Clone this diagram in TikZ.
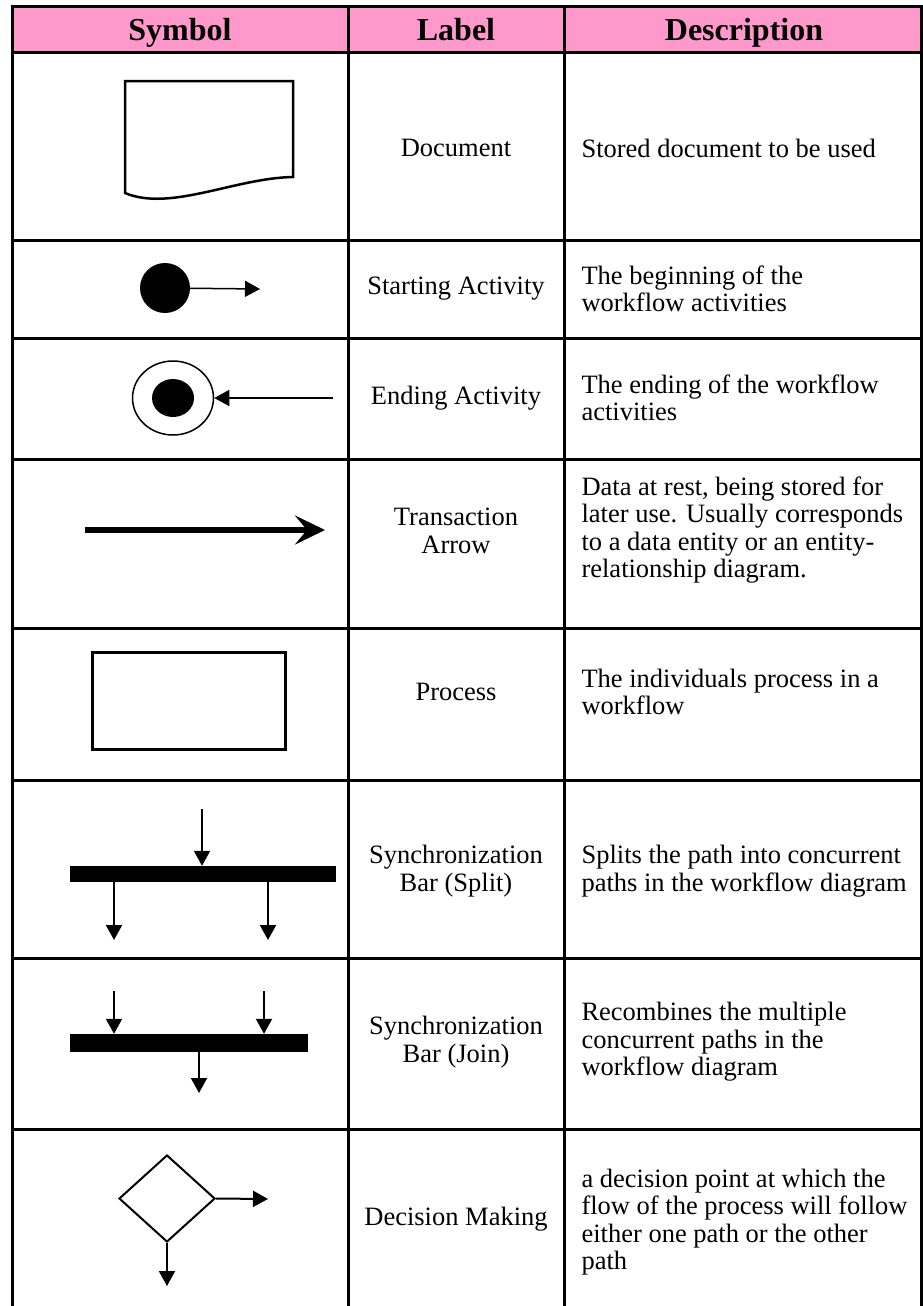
\documentclass[tikz,border=0pt]{standalone}
\usepackage{fontspec}
\setmainfont{Liberation Serif}
\usepackage{xcolor}
\definecolor{hdrpink}{RGB}{255, 153, 204}
\usetikzlibrary{arrows.meta, positioning, shapes.geometric}

\begin{document}
\begin{tikzpicture}[x=1pt, y=-1pt,
  grid/.style={line width=3pt, line cap=rect},
  hdr/.style={font=\fontsize{32}{36}\selectfont\bfseries, anchor=base},
  lbl/.style={font=\fontsize{26.5}{27.5}\selectfont, align=center},
  desc/.style={font=\fontsize{26.5}{27.5}\selectfont, align=left, anchor=west},
  tri/.style={-{Triangle[length=15pt, width=16pt]}}]
  \useasboundingbox (0,0) rectangle (922,1306);
  \fill[hdrpink] (12,7) rectangle (921,53);
  % table rules
  \foreach \y in {7,53,240,338,459,628,780,958,1129}
    \draw[grid] (12,\y) -- (921,\y);
  \foreach \x in {12,348,564,921}
    \draw[grid] (\x,7) -- (\x,1310);
  \node[hdr] (hsym) at (180,41) {Symbol};
  \node[hdr] (hlbl) at (456,41) {Label};
  \node[hdr] (hdesc) at (744,41) {Description};

  % document
  \draw[line width=2.5pt] (125,81) -- (293,81) -- (293,177)
    .. controls (235,178) and (170,212) .. (125,193) -- cycle;
  \node[lbl] (ldoc) at (456,148) {Document};
  \node[desc] (ddoc) at (578,148) {Stored document to be used};

  % starting activity
  \node[circle, fill, minimum size=50pt, inner sep=0] (startdot) at (165,288) {};
  \coordinate (startend) at (260,289);
  \draw[tri, line width=1.5pt] (startdot) -- (startend);
  \node[lbl] (lstart) at (456,289) {Starting Activity};
  \node[desc] (dstart) at (578,289) {The beginning of the\\workflow activities};

  % ending activity
  \node[ellipse, draw, line width=1.5pt, minimum width=81pt, minimum height=74pt,
        inner sep=0] (endring) at (173,398) {};
  \node[ellipse, fill, minimum width=42pt, minimum height=38pt, inner sep=0]
    (enddot) at (173,398) {};
  \coordinate (endstart) at (333,398);
  \draw[tri, line width=1.5pt] (endstart) -- (endring);
  \node[lbl] (lend) at (456,398) {Ending Activity};
  \node[desc] (dend) at (578,398) {The ending of the workflow\\activities};

  % transaction arrow
  \coordinate (trfrom) at (85,530);
  \coordinate (trto) at (325,530);
  \draw[line width=6pt, -{Stealth[length=30pt, width=29pt, inset=12pt]}]
    (trfrom) -- (trto);
  \node[lbl] (ltrans) at (456,531) {Transaction\\Arrow};
  \node[desc] (dtrans) at (578,530) {Data at rest, being stored for\\later use. Usually corresponds\\to a data entity or an entity-\\relationship diagram.};

  % process
  \node[draw, line width=3pt, minimum width=193pt, minimum height=97pt,
        inner sep=0] (proc) at (188.5,700.5) {};
  \node[lbl] (lproc) at (456,692) {Process};
  \node[desc] (dproc) at (578,692) {The individuals process in a\\workflow};

  % synchronization bar (split)
  \node[fill, minimum width=266pt, minimum height=16pt, inner sep=0]
    (splitbar) at (203,874) {};
  \coordinate (splitin) at (202,809);
  \coordinate (splitl) at (114,940);
  \coordinate (splitr) at (268,940);
  \draw[tri, line width=2pt] (splitin) -- (splitin |- splitbar.north);
  \draw[tri, line width=2pt] (splitl |- splitbar.south) -- (splitl);
  \draw[tri, line width=2pt] (splitr |- splitbar.south) -- (splitr);
  \node[lbl] (lsplit) at (456,871) {Synchronization\\Bar (Split)};
  \node[desc] (dsplit) at (578,871) {Splits the path into concurrent\\paths in the workflow diagram};

  % synchronization bar (join)
  \node[fill, minimum width=238pt, minimum height=18pt, inner sep=0]
    (joinbar) at (189,1043) {};
  \coordinate (joinl) at (114,991);
  \coordinate (joinr) at (264,991);
  \coordinate (joinout) at (199,1093);
  \draw[tri, line width=2pt] (joinl) -- (joinl |- joinbar.north);
  \draw[tri, line width=2pt] (joinr) -- (joinr |- joinbar.north);
  \draw[tri, line width=2pt] (joinout |- joinbar.south) -- (joinout);
  \node[lbl] (ljoin) at (456,1042) {Synchronization\\Bar (Join)};
  \node[desc] (djoin) at (578,1042) {Recombines the multiple\\concurrent paths in the\\workflow diagram};

  % decision making
  \node[diamond, draw, line width=2pt, minimum width=96pt, minimum height=87pt,
        inner sep=0] (decide) at (167,1198.5) {};
  \coordinate (decright) at (268,1199);
  \coordinate (decdown) at (167,1286);
  \draw[tri, line width=2pt] (decide.east) -- (decright);
  \draw[tri, line width=2pt] (decide.south) -- (decdown);
  \node[lbl] (ldec) at (456,1219) {Decision Making};
  \node[desc] (ddec) at (578,1222) {a decision point at which the\\flow of the process will follow\\either one path or the other\\path};
\end{tikzpicture}
\end{document}
